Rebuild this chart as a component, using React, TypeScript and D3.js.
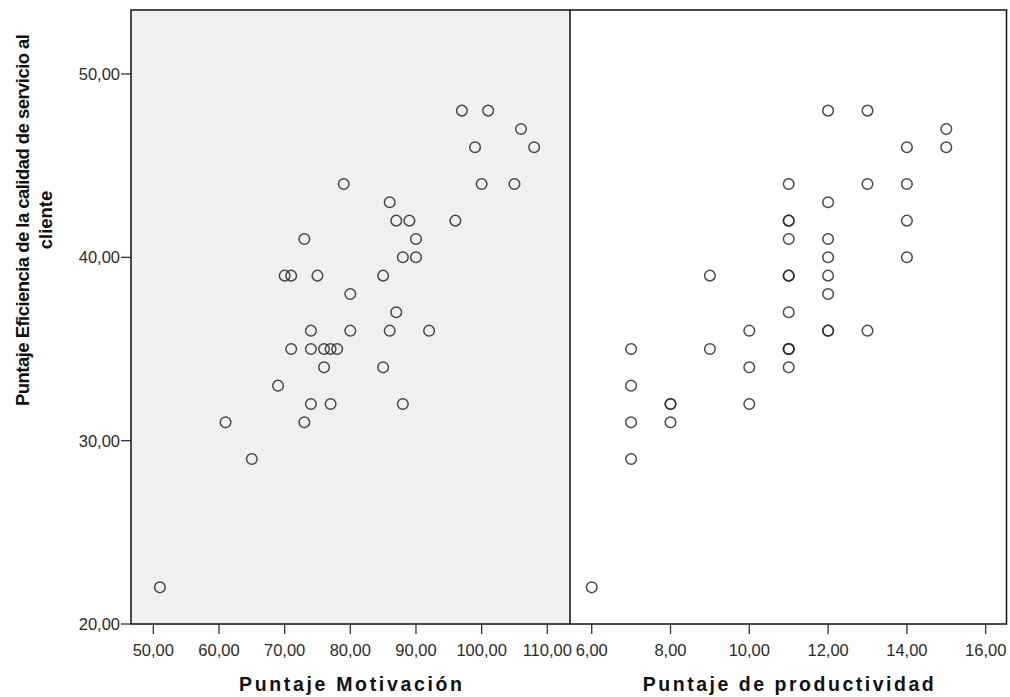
import React from "react";
import * as d3 from "d3";

// Left panel: Puntaje Motivación vs Eficiencia
const motivacion = [51, 61, 65, 69, 70, 71, 71, 73, 73, 74, 74, 74, 75, 76, 77, 78, 76, 77, 79, 80, 80, 85, 85, 86, 86, 87, 87, 88, 88, 89, 90, 90, 92, 96, 97, 99, 100, 101, 105, 106, 108];
const eficienciaMot = [22, 31, 29, 33, 39, 39, 35, 41, 31, 36, 35, 32, 39, 35, 35, 35, 34, 32, 44, 38, 36, 39, 34, 43, 36, 42, 37, 40, 32, 42, 41, 40, 36, 42, 48, 46, 44, 48, 44, 47, 46];

// Right panel: Puntaje de productividad vs Eficiencia
const productividad = [6, 7, 7, 7, 7, 8, 8, 8, 9, 9, 10, 10, 10, 11, 11, 11, 11, 11, 11, 11, 11, 11, 11, 11, 12, 12, 12, 12, 12, 12, 12, 12, 13, 13, 13, 14, 14, 14, 14, 15, 15];
const eficienciaProd = [22, 35, 33, 31, 29, 32, 32, 31, 39, 35, 36, 34, 32, 44, 42, 42, 41, 39, 39, 37, 35, 35, 35, 34, 48, 43, 41, 40, 39, 38, 36, 36, 48, 44, 36, 46, 44, 42, 40, 47, 46];

const motTicks = [50, 60, 70, 80, 90, 100, 110];
const prodTicks = [6, 8, 10, 12, 14, 16];
const yTicks = [20, 30, 40, 50];

const xTitleLeft = "Puntaje Motivación";
const xTitleRight = "Puntaje de productividad";
const yTitle1 = "Puntaje Eficiencia de la calidad de servicio al";
const yTitle2 = "cliente";

const fmt = (v: number) => v.toFixed(2).replace(".", ",");

export default function App() {
  const top = 10;
  const bottom = 624;
  const leftX0 = 131;
  const midX = 570;
  const rightX1 = 1006.5;

  const y = d3.scaleLinear().domain([20, 53.49]).range([bottom, top]);
  const xL = d3.scaleLinear().domain([46.6, 113.46]).range([leftX0, midX]);
  const xR = d3.scaleLinear().domain([5.449, 16.528]).range([midX, rightX1]);

  const font = "'Liberation Sans', Arial, sans-serif";
  const tickColor = "#2b2b2b";
  const tickSize = 16.5;

  return (
    <svg
      width={1010}
      height={697}
      style={{ position: "absolute", left: 0, top: 0, display: "block", background: "#fff" }}
      fontFamily={font}
    >
      {/* panels */}
      <rect x={leftX0} y={top} width={midX - leftX0} height={bottom - top} fill="#f0f0f0" />
      <rect x={midX} y={top} width={rightX1 - midX} height={bottom - top} fill="#ffffff" />

      {/* points */}
      <g fill="none" stroke="#2a2a2a" strokeWidth={1.5} strokeOpacity={0.85}>
        {motivacion.map((m, i) => (
          <circle key={"l" + i} cx={xL(m)} cy={y(eficienciaMot[i])} r={5.3} />
        ))}
        {productividad.map((p, i) => (
          <circle key={"r" + i} cx={xR(p)} cy={y(eficienciaProd[i])} r={5.3} />
        ))}
      </g>

      {/* frames */}
      <rect x={leftX0} y={top} width={rightX1 - leftX0} height={bottom - top} fill="none" stroke="#111" strokeWidth={1.5} />
      <line x1={midX} x2={midX} y1={top} y2={bottom} stroke="#111" strokeWidth={1.5} />

      {/* y axis */}
      {yTicks.map((t) => (
        <g key={"y" + t}>
          <line x1={121} x2={leftX0} y1={y(t)} y2={y(t)} stroke="#333" strokeWidth={1.3} />
          <text x={120} y={y(t)} dy="0.36em" textAnchor="end" fontSize={tickSize} fill={tickColor}>
            {fmt(t)}
          </text>
        </g>
      ))}

      {/* x axis left */}
      {motTicks.map((t) => (
        <g key={"xl" + t}>
          <line x1={xL(t)} x2={xL(t)} y1={bottom} y2={bottom + 10} stroke="#333" strokeWidth={1.3} />
          <text x={xL(t)} y={656} textAnchor="middle" fontSize={tickSize} fill={tickColor}>
            {fmt(t)}
          </text>
        </g>
      ))}

      {/* x axis right */}
      {prodTicks.map((t) => (
        <g key={"xr" + t}>
          <line x1={xR(t)} x2={xR(t)} y1={bottom} y2={bottom + 10} stroke="#333" strokeWidth={1.3} />
          <text x={xR(t)} y={656} textAnchor="middle" fontSize={tickSize} fill={tickColor}>
            {fmt(t)}
          </text>
        </g>
      ))}

      {/* axis titles */}
      <text x={(leftX0 + midX) / 2} y={691} textAnchor="middle" fontSize={19.5} fontWeight="bold" fill="#111" textLength={223} lengthAdjust="spacing">
        {xTitleLeft}
      </text>
      <text x={(midX + rightX1) / 2} y={691} textAnchor="middle" fontSize={19.5} fontWeight="bold" fill="#111" textLength={291} lengthAdjust="spacing">
        {xTitleRight}
      </text>
      <g transform="translate(0,220) rotate(-90)">
        <text x={0} y={29} textAnchor="middle" fontSize={18.5} fontWeight="bold" fill="#111" textLength={372} lengthAdjust="spacing">
          {yTitle1}
        </text>
        <text x={0} y={52} textAnchor="middle" fontSize={18.5} fontWeight="bold" fill="#111">
          {yTitle2}
        </text>
      </g>
    </svg>
  );
}
